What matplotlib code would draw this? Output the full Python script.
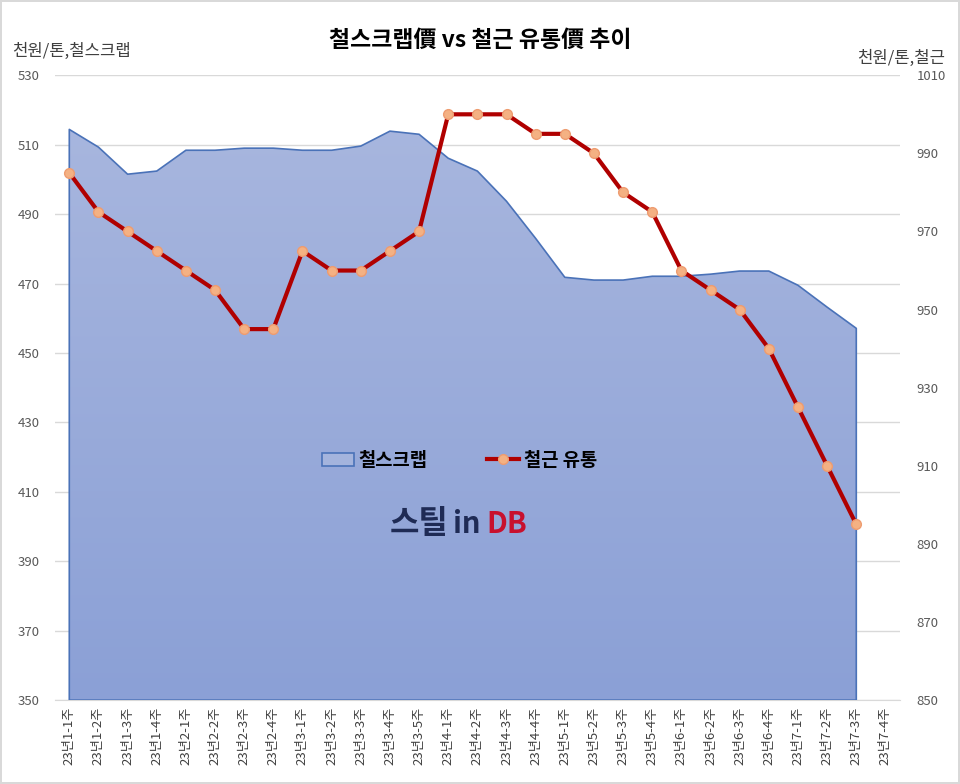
import matplotlib

matplotlib.use("Agg")
import matplotlib.pyplot as plt  # noqa: E402
import numpy as np  # noqa: E402
from matplotlib.colors import LinearSegmentedColormap  # noqa: E402
from matplotlib.lines import Line2D  # noqa: E402
from matplotlib.patches import Patch  # noqa: E402

plt.rcParams["font.family"] = ["Noto Sans CJK KR", "DejaVu Sans"]

# 주차 라벨 (7-4주는 데이터 없음)
weeks = (
    [f"23년1-{i}주" for i in range(1, 5)]
    + [f"23년2-{i}주" for i in range(1, 5)]
    + [f"23년3-{i}주" for i in range(1, 6)]
    + [f"23년4-{i}주" for i in range(1, 5)]
    + [f"23년5-{i}주" for i in range(1, 5)]
    + [f"23년6-{i}주" for i in range(1, 5)]
    + [f"23년7-{i}주" for i in range(1, 5)]
)

scrap = [514.4, 509.3, 501.5, 502.4, 508.4, 508.4, 509.0, 509.0, 508.4, 508.4,
         509.6, 513.9, 513.0, 506.1, 502.4, 493.7, 483.0, 471.8, 471.0, 471.0,
         472.1, 472.1, 472.7, 473.6, 473.6, 469.5, 463.2, 457.1]

rebar = [985, 975, 970, 965, 960, 955, 945, 945, 965, 960,
         960, 965, 970, 1000, 1000, 1000, 995, 995, 990, 980,
         975, 960, 955, 950, 940, 925, 910, 895]

left_ticks = list(range(350, 531, 20))
right_ticks = list(range(850, 1011, 20))

fig = plt.figure(figsize=(9.6, 7.84), dpi=100)
fig.patch.set_edgecolor("#D9D9D9")
fig.patch.set_linewidth(1.5)
ax = fig.add_axes([0.057, 0.107, 0.8805, 0.797])
ax2 = ax.twinx()

x = np.arange(len(scrap))

# 철스크랩 영역 (그라데이션)
poly = ax.fill_between(x, scrap, 350, facecolor="none", edgecolor="#4A72B8",
                       linewidth=1.2, zorder=3)
cmap = LinearSegmentedColormap.from_list("area", ["#AAB8DF", "#8BA0D6"])
grad = np.linspace(0, 1, 256).reshape(-1, 1)
im = ax.imshow(grad, extent=[x[0], x[-1], 350, 530], aspect="auto",
               cmap=cmap, origin="upper", zorder=2)
im.set_clip_path(poly.get_paths()[0], transform=ax.transData)

ax.set_xlim(-0.5, len(weeks) - 0.5)
ax.set_ylim(350, 530)
ax.set_yticks(left_ticks)
ax.set_xticks(range(len(weeks)))
ax.set_xticklabels(weeks, rotation=90, fontsize=9.5, color="#404040")
ax.grid(axis="y", color="#D9D9D9", linewidth=1, zorder=0)
ax.set_axisbelow(True)
ax.tick_params(axis="y", length=0, labelsize=9.5, labelcolor="#595959", pad=11)
ax.tick_params(axis="x", length=0, pad=5)
for s in ["top", "left", "right"]:
    ax.spines[s].set_visible(False)
ax.spines["bottom"].set_color("#D9D9D9")

# 철근 유통
ax2.plot(x, rebar, color="#B00000", linewidth=3, marker="o", markersize=7,
         markerfacecolor="#F4B183", markeredgecolor="#EE9C70", zorder=4)
ax2.set_ylim(850, 1010)
ax2.set_yticks(right_ticks)
ax2.tick_params(axis="y", length=0, labelsize=9.5, labelcolor="#595959", pad=12)
for s in ax2.spines.values():
    s.set_visible(False)

handles = [
    Patch(facecolor="#A4B4DD", edgecolor="#4A72B8", linewidth=1.2),
    Line2D([], [], color="#B00000", linewidth=3, marker="o", markersize=7,
           markerfacecolor="#F4B183", markeredgecolor="#EE9C70"),
]
ax2.legend(handles, ["철스크랩", "철근 유통"], loc="center",
           bbox_to_anchor=(0.479, 0.384), ncol=2, frameon=False,
           prop={"weight": "bold", "size": 13.5}, columnspacing=3.2,
           handlelength=1.7, handletextpad=0.25)

fig.text(0.5, 0.948, "철스크랩價 vs 철근 유통價 추이", ha="center", va="center",
         fontsize=16.5, fontweight="bold")
fig.text(0.013, 0.935, "천원/톤,철스크랩", ha="left", va="center", fontsize=12,
         color="#404040")
fig.text(0.985, 0.926, "천원/톤,철근", ha="right", va="center", fontsize=12,
         color="#404040")

# 로고
fig.text(0.406, 0.331, "스틸", ha="left", va="center", fontsize=23,
         fontweight="bold", color="#1F2B55")
fig.text(0.472, 0.331, "in", ha="left", va="center", fontsize=21,
         fontweight="bold", color="#1F2B55")
fig.text(0.507, 0.331, "DB", ha="left", va="center", fontsize=21,
         fontweight="bold", color="#C8102E")

fig.savefig("out.png", dpi=100)
